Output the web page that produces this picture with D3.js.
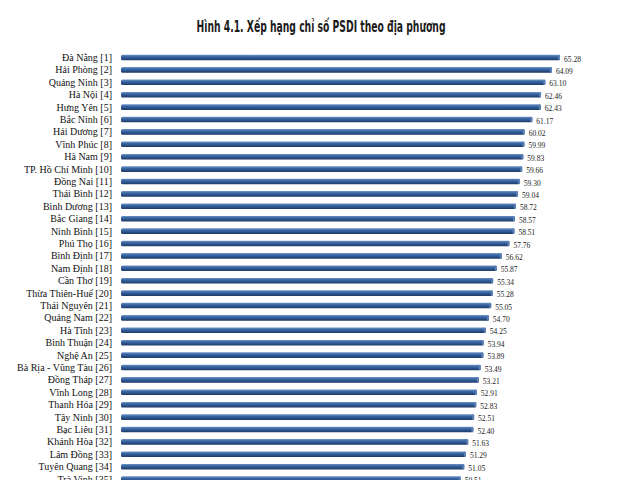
<!DOCTYPE html>
<html>
<head>
<meta charset="utf-8">
<script src="https://cdn.jsdelivr.net/npm/d3@7.9.0/dist/d3.min.js"></script>
<style>
  html, body { margin: 0; padding: 0; background: #fff; }
  svg { display: block; }
</style>
</head>
<body>
<svg id="chart" width="640" height="480"></svg>
<script>
// Provinces in rank order and their PSDI scores
const provinces = [
  'Đà Nẵng', 'Hải Phòng', 'Quảng Ninh', 'Hà Nội', 'Hưng Yên', 'Bắc Ninh',
  'Hải Dương', 'Vĩnh Phúc', 'Hà Nam', 'TP. Hồ Chí Minh', 'Đồng Nai', 'Thái Bình',
  'Bình Dương', 'Bắc Giang', 'Ninh Bình', 'Phú Thọ', 'Bình Định', 'Nam Định',
  'Cần Thơ', 'Thừa Thiên-Huế', 'Thái Nguyên', 'Quảng Nam', 'Hà Tĩnh', 'Bình Thuận',
  'Nghệ An', 'Bà Rịa - Vũng Tàu', 'Đồng Tháp', 'Vĩnh Long', 'Thanh Hóa', 'Tây Ninh',
  'Bạc Liêu', 'Khánh Hòa', 'Lâm Đồng', 'Tuyên Quang', 'Trà Vinh'
];
const scores = [
  65.28, 64.09, 63.10, 62.46, 62.43, 61.17,
  60.02, 59.99, 59.83, 59.66, 59.30, 59.04,
  58.72, 58.57, 58.51, 57.76, 56.62, 55.87,
  55.34, 55.28, 55.05, 54.70, 54.25, 53.94,
  53.89, 53.49, 53.21, 52.91, 52.83, 52.51,
  52.40, 51.63, 51.29, 51.05, 50.51
];
const titleText = 'Hình 4.1. Xếp hạng chỉ số PSDI theo địa phương';

const data = provinces.map((p, i) => ({ label: `${p} [${i + 1}]`, value: scores[i] }));

const svg = d3.select('#chart');

// gradient to mimic the bevelled bars
const defs = svg.append('defs');
const grad = defs.append('linearGradient')
  .attr('id', 'barGrad').attr('x1', 0).attr('y1', 0).attr('x2', 0).attr('y2', 1);
grad.append('stop').attr('offset', '0%').attr('stop-color', '#6f93c6');
grad.append('stop').attr('offset', '35%').attr('stop-color', '#3a68a6');
grad.append('stop').attr('offset', '100%').attr('stop-color', '#1c3a68');

// Title
svg.append('text')
  .attr('x', 321)
  .attr('y', 32)
  .attr('text-anchor', 'middle')
  .attr('font-family', '"Liberation Sans Narrow", "DejaVu Sans Condensed", sans-serif')
  .attr('font-weight', 'bold')
  .attr('font-size', 16)
  .attr('fill', '#1a1a1a')
  .attr('textLength', 249)
  .attr('lengthAdjust', 'spacingAndGlyphs')
  .text(titleText);

// Scales
const rowStep = 12.4;
const plotTop = 51.3;
const x = d3.scaleLinear().domain([0, 65.28]).range([121, 560]);
const y = d3.scaleBand()
  .domain(data.map(d => d.label))
  .range([plotTop, plotTop + rowStep * data.length])
  .paddingInner(0.55)
  .paddingOuter(0.275);

// Bars
const rows = svg.append('g').selectAll('g')
  .data(data)
  .join('g');

rows.append('rect')
  .attr('x', x(0))
  .attr('y', d => y(d.label))
  .attr('width', d => x(d.value) - x(0))
  .attr('height', y.bandwidth())
  .attr('rx', 1.5)
  .attr('fill', 'url(#barGrad)');

// small lighter end cap
rows.append('rect')
  .attr('x', d => x(d.value) - 2)
  .attr('y', d => y(d.label))
  .attr('width', 2)
  .attr('height', y.bandwidth())
  .attr('rx', 1)
  .attr('fill', '#5a7fb5');

// Category labels
rows.append('text')
  .attr('x', 112)
  .attr('y', d => y(d.label) + y.bandwidth() / 2 + 3.5)
  .attr('text-anchor', 'end')
  .attr('font-family', '"Liberation Serif", "Times New Roman", serif')
  .attr('font-size', 10)
  .attr('fill', '#111')
  .text(d => d.label);

// Value labels
rows.append('text')
  .attr('x', d => x(d.value) + 4)
  .attr('y', d => y(d.label) + y.bandwidth() / 2 + 4)
  .attr('font-family', '"Liberation Serif", "Times New Roman", serif')
  .attr('font-size', 7.5)
  .attr('fill', '#222')
  .text(d => d.value.toFixed(2));
</script>
</body>
</html>
